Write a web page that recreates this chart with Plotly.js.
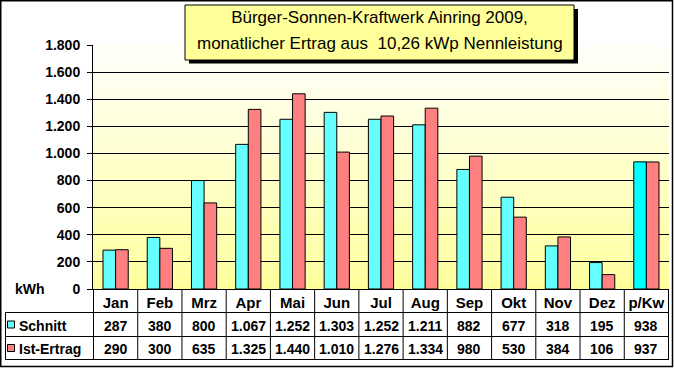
<!DOCTYPE html>
<html><head><meta charset="utf-8">
<script src="https://cdn.plot.ly/plotly-3.0.1.min.js"></script>
<style>html,body{margin:0;padding:0;background:#fff;overflow:hidden}</style>
</head><body><div id="chart" style="width:674px;height:369px"></div>
<script>
// ---- data ----
const categories = ['Jan','Feb','Mrz','Apr','Mai','Jun','Jul','Aug','Sep','Okt','Nov','Dez','p/Kw'];
const schnitt    = [287,380,800,1067,1252,1303,1252,1211,882,677,318,195,938];
const istErtrag  = [290,300,635,1325,1440,1010,1276,1334,980,530,384,106,937];
const seriesNames = ['Schnitt','Ist-Ertrag'];
const yTickVals  = [0,200,400,600,800,1000,1200,1400,1600,1800];
const yGridVals  = [200,400,600,800,1000,1200,1400,1600];
const titleLine1 = 'Bürger-Sonnen-Kraftwerk Ainring 2009,';
const titleLine2 = 'monatlicher Ertrag aus  10,26 kWp Nennleistung';
const unitLabel  = 'kWh';

// ---- styling helpers ----
const W = 674, H = 369;
const ML = 93, MR = 5, MT = 45, MB = 80;
const PW = W - ML - MR, PH = H - MT - MB;
const X = px => (px - ML) / PW;
const Y = py => (H - MB - py) / PH;
const FONT = 'Liberation Sans, Arial, sans-serif';
const cyan = '#66FFFF', red = '#FF8080';
const fmt = v => String(v).replace(/\B(?=(\d{3})+(?!\d))/g, '.');

const shapes = [];
// gradient plot background
const N = 60;
for (let i = 0; i < N; i++) {
  const t = i / (N - 1); // 0 bottom, 1 top
  const b = Math.round(153 + (250 - 153) * t);
  shapes.push({type:'rect', xref:'paper', yref:'paper', x0:0, x1:1, y0:i/N, y1:(i+1)/N,
    fillcolor:`rgb(255,255,${b})`, line:{width:0}, layer:'below'});
}
// outer frame
shapes.push({type:'rect', xref:'paper', yref:'paper', x0:X(0.75), x1:X(672.5), y0:Y(0.75), y1:Y(366.5),
  line:{color:'#000', width:1.5}, fillcolor:'rgba(0,0,0,0)'});
// title box shadow + box
shapes.push({type:'rect', xref:'paper', yref:'paper', x0:X(189), x1:X(578), y0:Y(9), y1:Y(63.5),
  fillcolor:'#000', line:{width:0}});
shapes.push({type:'rect', xref:'paper', yref:'paper', x0:X(185), x1:X(574), y0:Y(5), y1:Y(60),
  fillcolor:'#FFFF99', line:{color:'#000', width:1}});
// table lines
const tl = {color:'#000', width:1};
[312.5, 336.5, 359.5].forEach(py => shapes.push({type:'line', xref:'paper', yref:'paper',
  x0:X(5), x1:1, y0:Y(py), y1:Y(py), line:tl}));
shapes.push({type:'line', xref:'paper', yref:'paper', x0:X(5.5), x1:X(5.5), y0:Y(312.5), y1:Y(359.5), line:tl});
for (let i = 0; i <= categories.length; i++) {
  shapes.push({type:'line', xref:'x', yref:'paper', x0:i-0.5, x1:i-0.5, y0:0, y1:Y(359.5), line:tl});
}
// legend keys in table
[[cyan, 324.5],[red, 348]].forEach(([c, cy]) => shapes.push({type:'rect', xref:'paper', yref:'paper',
  x0:X(7.5), x1:X(14.5), y0:Y(cy-3.5), y1:Y(cy+3.5), fillcolor:c, line:{color:'#000', width:1}}));

const annotations = [];
const cellFont = {family:FONT, size:14, color:'#000', weight:'bold'};
categories.forEach((c, i) => {
  annotations.push({x:c, xref:'x', y:Y(325.5), yref:'paper', text:fmt(schnitt[i]), showarrow:false,
    font:cellFont, xanchor:'center', yanchor:'middle'});
  annotations.push({x:c, xref:'x', y:Y(348.5), yref:'paper', text:fmt(istErtrag[i]), showarrow:false,
    font:cellFont, xanchor:'center', yanchor:'middle'});
});
annotations.push({x:X(17), xref:'paper', y:Y(325.5), yref:'paper', text:seriesNames[0], showarrow:false,
  font:cellFont, xanchor:'left', yanchor:'middle'});
annotations.push({x:X(17), xref:'paper', y:Y(348.5), yref:'paper', text:seriesNames[1], showarrow:false,
  font:cellFont, xanchor:'left', yanchor:'middle'});
annotations.push({x:X(29.5), xref:'paper', y:Y(289), yref:'paper', text:unitLabel, showarrow:false,
  font:cellFont, xanchor:'center', yanchor:'middle'});
annotations.push({x:X(379.5), xref:'paper', y:Y(43), yref:'paper', text:titleLine2, showarrow:false,
  font:{family:FONT, size:17, color:'#000'}, xanchor:'center', yanchor:'middle'});

const traces = [
  {type:'bar', name:seriesNames[0], x:categories, y:schnitt,
   marker:{color:categories.map((c,i)=> i===categories.length-1 ? '#00FFFF' : cyan), line:{color:'#000', width:1}},
   hoverinfo:'skip'},
  {type:'bar', name:seriesNames[1], x:categories, y:istErtrag,
   marker:{color:red, line:{color:'#000', width:1}}, hoverinfo:'skip'}
];

const layout = {
  width:W, height:H,
  margin:{l:ML, r:MR, t:MT, b:MB, pad:0},
  paper_bgcolor:'#fff', plot_bgcolor:'rgba(0,0,0,0)',
  separators:',.',
  showlegend:false,
  barmode:'group', bargap:0.43, bargroupgap:0,
  title:{text:titleLine1, x:379.5 / W, xanchor:'center', xref:'container',
         y:1 - 17.5 / H, yref:'container', yanchor:'middle',
         font:{family:FONT, size:17, color:'#000'}},
  xaxis:{type:'category', showline:true, linecolor:'#000', linewidth:1, ticks:'', showgrid:false,
    tickfont:{family:FONT, size:15, color:'#000', weight:'bold'}, zeroline:false, fixedrange:true},
  yaxis:{range:[0,1800], tickvals:yTickVals, tickformat:',d', showline:true, linecolor:'#000', linewidth:1,
    ticks:'outside', ticklen:5, tickcolor:'#000', tickwidth:1, ticklabelstandoff:4,
    showgrid:false, zeroline:false,
    minor:{tickvals:yGridVals, showgrid:true, gridcolor:'#000', gridwidth:1, ticks:''},
    tickfont:{family:FONT, size:14, color:'#000', weight:'bold'}, fixedrange:true},
  shapes:shapes,
  annotations:annotations
};

Plotly.newPlot('chart', traces, layout, {staticPlot:true, displayModeBar:false});
</script>
</body></html>
